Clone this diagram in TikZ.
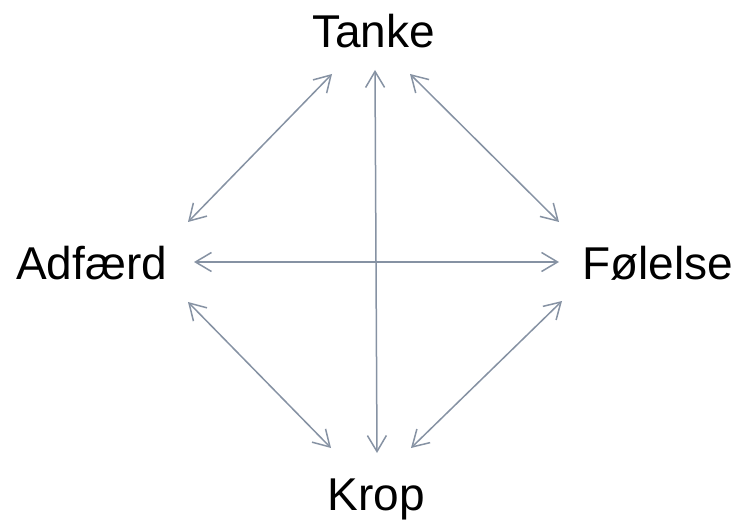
\documentclass[tikz,border=0pt]{standalone}
\usepackage{fontspec}
\setmainfont{Liberation Sans}
\usetikzlibrary{arrows.meta}
\definecolor{arrowgray}{RGB}{134,146,163}
\tikzset{
  label text/.style={anchor=base, inner sep=0pt, font=\fontsize{46}{55}\selectfont, text=black},
  link/.style={draw=arrowgray, line width=1.5pt,
    {Straight Barb[length=16pt,width=19pt]}-{Straight Barb[length=16pt,width=19pt]}}
}
\begin{document}
\begin{tikzpicture}[x=1pt,y=-1pt]
\useasboundingbox (0,0) rectangle (742,521);
\node[label text] (tanke) at (373.5,48) {Tanke};
\node[label text] (adf) at (91.5,280) {Adfærd};
\node[label text] (fol) at (657.5,280) {Følelse};
\node[label text] (krop) at (376.5,510) {Krop};
% arrow end points
\coordinate (tA) at (332,74);
\coordinate (tV) at (375,70);
\coordinate (tF) at (410,74);
\coordinate (aT) at (188,222);
\coordinate (aF) at (194,262);
\coordinate (aK) at (188,302);
\coordinate (fT) at (559,222);
\coordinate (fA) at (559,262);
\coordinate (fK) at (562,301);
\coordinate (kA) at (331,448);
\coordinate (kV) at (377,453);
\coordinate (kF) at (411,448);
\draw[link] (aT) -- (tA);
\draw[link] (kV) -- (tV);
\draw[link] (fT) -- (tF);
\draw[link] (aF) -- (fA);
\draw[link] (aK) -- (kA);
\draw[link] (fK) -- (kF);
\end{tikzpicture}
\end{document}
